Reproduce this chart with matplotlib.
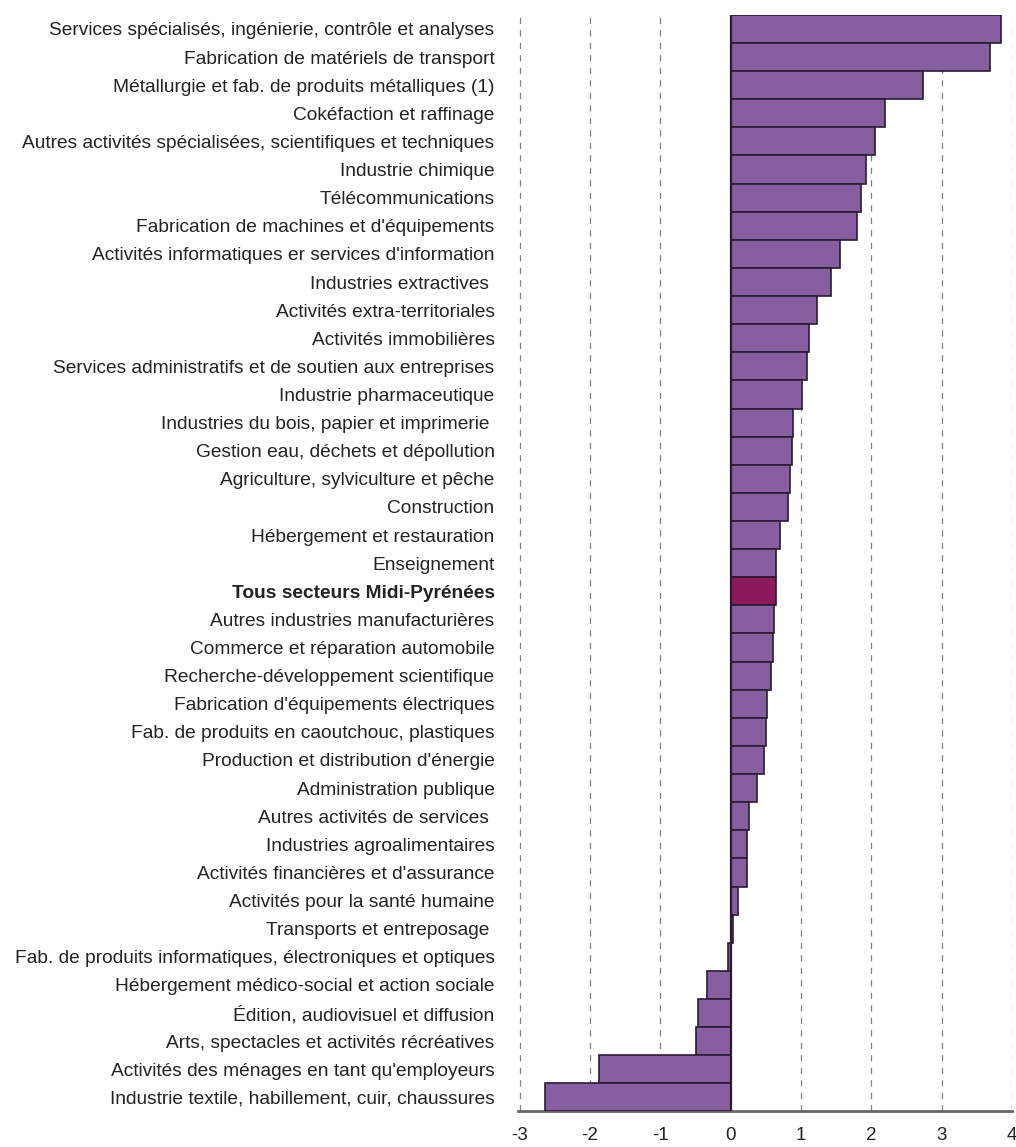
import matplotlib
matplotlib.use("Agg")
import matplotlib.pyplot as plt
import numpy as np

plt.rcParams['font.family'] = ['Liberation Sans', 'DejaVu Sans']

# secteurs (de haut en bas)
secteurs = [
    "Services spécialisés, ingénierie, contrôle et analyses",
    "Fabrication de matériels de transport",
    "Métallurgie et fab. de produits métalliques (1)",
    "Cokéfaction et raffinage",
    "Autres activités spécialisées, scientifiques et techniques",
    "Industrie chimique",
    "Télécommunications",
    "Fabrication de machines et d'équipements",
    "Activités informatiques er services d'information",
    "Industries extractives ",
    "Activités extra-territoriales",
    "Activités immobilières",
    "Services administratifs et de soutien aux entreprises",
    "Industrie pharmaceutique",
    "Industries du bois, papier et imprimerie ",
    "Gestion eau, déchets et dépollution",
    "Agriculture, sylviculture et pêche",
    "Construction",
    "Hébergement et restauration",
    "Enseignement",
    "Tous secteurs Midi-Pyrénées",
    "Autres industries manufacturières",
    "Commerce et réparation automobile",
    "Recherche-développement scientifique",
    "Fabrication d'équipements électriques",
    "Fab. de produits en caoutchouc, plastiques",
    "Production et distribution d'énergie",
    "Administration publique",
    "Autres activités de services ",
    "Industries agroalimentaires",
    "Activités financières et d'assurance",
    "Activités pour la santé humaine",
    "Transports et entreposage ",
    "Fab. de produits informatiques, électroniques et optiques",
    "Hébergement médico-social et action sociale",
    "Édition, audiovisuel et diffusion",
    "Arts, spectacles et activités récréatives",
    "Activités des ménages en tant qu'employeurs",
    "Industrie textile, habillement, cuir, chaussures",
]

valeurs = [
    3.84, 3.69, 2.73, 2.19, 2.06, 1.92, 1.85, 1.80, 1.56, 1.43,
    1.23, 1.11, 1.08, 1.02, 0.89, 0.88, 0.84, 0.82, 0.70, 0.65,
    0.65, 0.62, 0.60, 0.57, 0.52, 0.51, 0.48, 0.38, 0.26, 0.24,
    0.23, 0.10, 0.03, -0.03, -0.33, -0.47, -0.49, -1.87, -2.64,
]

total = "Tous secteurs Midi-Pyrénées"
xticks = [-3, -2, -1, 0, 1, 2, 3, 4]

fig = plt.figure(figsize=(10.16, 11.47), dpi=100)
ax = fig.add_axes([0.51, 0.031, 0.486, 0.956])

n = len(secteurs)
y = np.arange(n)[::-1]
couleurs = ['#8b1a5c' if s == total else '#875ea0' for s in secteurs]
ax.barh(y, valeurs, height=1.0, color=couleurs, edgecolor='#2a1b33', linewidth=1.2, zorder=3)

# grille verticale pointillée
for x in xticks:
    if x != 0:
        ax.axvline(x, color='#808080', linestyle=(0, (5, 5)), linewidth=0.9, zorder=1)
ax.axvline(0, color='#2a1b33', linewidth=1.6, zorder=4)

ax.set_xlim(-3.02, 4.0)
ax.set_ylim(-0.5, n - 0.5)
ax.set_xticks(xticks)
ax.set_xticklabels([str(x) for x in xticks], fontsize=13.5, color='#222222')
ax.set_yticks(y)
ax.set_yticklabels(secteurs, fontsize=13.8, color='#222222')
for lbl in ax.get_yticklabels():
    if lbl.get_text() == total:
        lbl.set_fontweight('bold')

ax.tick_params(axis='y', length=0, pad=17)
ax.tick_params(axis='x', length=0, pad=11)

for side in ['left', 'right', 'top']:
    ax.spines[side].set_visible(False)
ax.spines['bottom'].set_color('#666666')
ax.spines['bottom'].set_linewidth(2)

fig.savefig('out.png', dpi=100, facecolor='white')
